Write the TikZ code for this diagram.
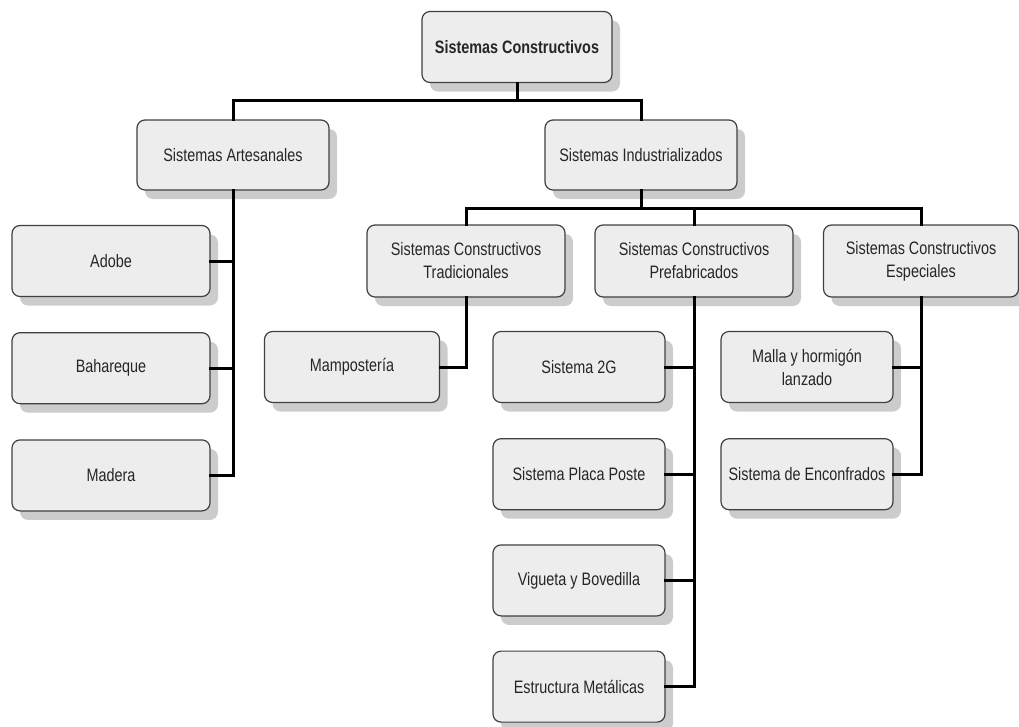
\documentclass[tikz,border=0pt]{standalone}
\usepackage{fontspec}
\setmainfont{Liberation Sans}[FakeStretch=0.8]
\usepackage{tikz}
\usetikzlibrary{positioning, shadows}

\begin{document}
\begin{tikzpicture}[x=1pt, y=1pt,
  box/.style={rectangle, draw=black!75, line width=1.2pt, fill=black!7, rounded corners=8pt, minimum width=198pt, minimum height=71pt, align=center, text=black!85, font=\fontsize{18}{23}\selectfont, drop shadow={shadow xshift=8pt, shadow yshift=-9pt, fill=black!20, opacity=1}},
  small/.style={box, minimum width=172pt},
  link/.style={line width=3pt, line cap=rect, line join=miter}
]
  \useasboundingbox (0,0) rectangle (1019,-726);

  \node[box, minimum width=190pt, font=\fontsize{18}{23}\selectfont\bfseries] (root) at (517,-47) {Sistemas Constructivos};
  \node[box, minimum width=192pt, minimum height=70pt] (art) at (233,-155) {Sistemas Artesanales};
  \node[box, minimum width=192pt, minimum height=70pt] (ind) at (641,-155) {Sistemas Industrializados};

  \node[box, minimum height=72pt] (trad) at (466,-261) {Sistemas Constructivos\\Tradicionales};
  \node[box, minimum height=72pt] (pre) at (694,-261) {Sistemas Constructivos\\Prefabricados};
  \node[box, minimum height=72pt, minimum width=195pt] (esp) at (921,-261) {Sistemas Constructivos\\Especiales};

  \node[box] (adobe) at (111,-261) {Adobe};
  \node[box, below=35pt of adobe] (bahareque) {Bahareque};
  \node[box, below=35pt of bahareque] (madera) {Madera};

  \node[box, minimum width=175pt] (mamp) at (352,-367) {Mampostería};

  \node[small] (sis2g) at (579,-367) {Sistema 2G};
  \node[small, below=35pt of sis2g] (placa) {Sistema Placa Poste};
  \node[small, below=34pt of placa] (vigueta) {Vigueta y Bovedilla};
  \node[small, below=34pt of vigueta] (estructura) {Estructura Metálicas};

  \node[small] (malla) at (807,-367) {Malla y hormigón\\lanzado};
  \node[small, below=35pt of malla] (encofrados) {Sistema de Enconfrados};

  \coordinate (bus1) at (517,-100);
  \coordinate (bus2) at (641,-208);

  \draw[link] (root.south) -- (bus1);
  \draw[link] (art.north) |- (bus1) -| (ind.north);
  \draw[link] (ind.south) -- (bus2);
  \draw[link] (trad.north) |- (bus2) -| (esp.north);
  \draw[link] (pre.north) -- (pre.north |- bus2);

  \foreach \n in {adobe, bahareque, madera}
    \draw[link] (art.south) |- (\n.east);
  \draw[link] (trad.south) |- (mamp.east);
  \foreach \n in {sis2g, placa, vigueta, estructura}
    \draw[link] (pre.south) |- (\n.east);
  \foreach \n in {malla, encofrados}
    \draw[link] (esp.south) |- (\n.east);
\end{tikzpicture}
\end{document}
